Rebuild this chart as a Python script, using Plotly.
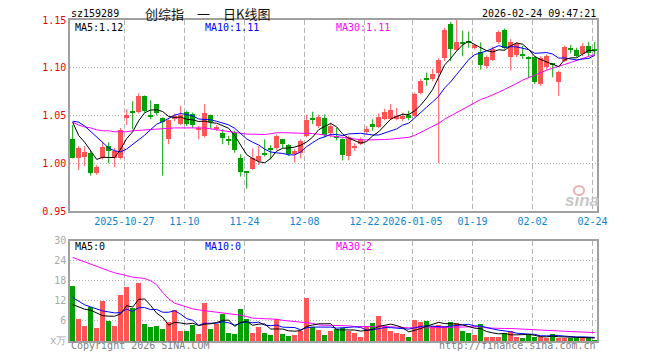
import numpy as np
import pandas as pd
import plotly.graph_objects as go

# ---------------- data ----------------
holidays = ["2026-01-01", "2026-01-02", "2026-02-16", "2026-02-17", "2026-02-18",
            "2026-02-19", "2026-02-20", "2026-02-23"]
dates = [d.strftime("%Y-%m-%d") for d in
         pd.bdate_range("2025-10-14", "2026-02-24", freq="C", holidays=holidays)]

opens = [1.025, 1.006, 1.0066, 1.0105, 0.9895, 1.006, 1.018, 1.006, 1.006, 1.047,
         1.054, 1.0535, 1.0705, 1.050, 1.062, 1.047, 1.025, 1.046, 1.041, 1.054,
         1.052, 1.035, 1.0286, 1.0506, 1.036, 1.032, 1.0245, 1.032, 1.005, 0.991,
         0.9937, 1.0024, 1.0105, 1.0164, 1.0164, 1.025, 1.019, 1.0094, 1.011, 1.0286,
         1.047, 1.0385, 1.047, 1.032, 1.029, 1.0255, 1.0077, 1.0157, 1.0206, 1.0325,
         1.041, 1.0384, 1.0465, 1.0465, 1.0465, 1.046, 1.051, 1.050, 1.0734, 1.088,
         1.0884, 1.094, 1.110, 1.146, 1.119, 1.1262, 1.127, 1.121, 1.116, 1.102,
         1.108, 1.127, 1.1394, 1.111, 1.113, 1.1135, 1.1105, 1.111, 1.083, 1.1006,
         1.104, 1.0846, 1.107, 1.120, 1.1185, 1.1143, 1.1228, 1.119]
highs = [1.040, 1.018, 1.018, 1.013, 0.998, 1.022, 1.022, 1.016, 1.037, 1.0566,
         1.065, 1.073, 1.071, 1.066, 1.062, 1.048, 1.046, 1.052, 1.060, 1.055,
         1.053, 1.039, 1.062, 1.051, 1.040, 1.036, 1.0286, 1.034, 1.0094, 0.992,
         1.0154, 1.018, 1.025, 1.019, 1.030, 1.025, 1.020, 1.0147, 1.025, 1.051,
         1.054, 1.051, 1.051, 1.0426, 1.037, 1.026, 1.029, 1.021, 1.027, 1.039,
         1.046, 1.052, 1.057, 1.062, 1.058, 1.053, 1.055, 1.074, 1.088, 1.095,
         1.0989, 1.110, 1.142, 1.148, 1.151, 1.139, 1.138, 1.125, 1.1265, 1.113,
         1.122, 1.139, 1.141, 1.130, 1.127, 1.123, 1.112, 1.112, 1.112, 1.114,
         1.104, 1.097, 1.123, 1.124, 1.121, 1.126, 1.127, 1.127]
lows = [1.005, 0.993, 0.997, 0.987, 0.988, 1.004, 1.000, 0.996, 1.004, 1.040,
        1.0356, 1.052, 1.053, 1.046, 1.050, 0.987, 1.020, 1.044, 1.040, 1.039,
        1.037, 1.025, 1.027, 1.036, 1.034, 1.020, 1.019, 1.011, 0.986, 0.9735,
        0.993, 0.998, 1.007, 1.004, 1.014, 1.016, 1.0077, 1.0007, 1.005, 1.027,
        1.041, 1.037, 1.027, 1.027, 1.024, 1.003, 1.003, 1.013, 1.019, 1.030,
        1.034, 1.037, 1.045, 1.045, 1.045, 1.044, 1.045, 1.048, 1.072, 1.081,
        1.086, 1.000, 1.107, 1.107, 1.118, 1.112, 1.121, 1.119, 1.098, 1.099,
        1.107, 1.125, 1.119, 1.097, 1.111, 1.109, 1.089, 1.083, 1.081, 1.098,
        1.090, 1.0705, 1.106, 1.115, 1.111, 1.112, 1.112, 1.114]
closes = [1.006, 1.0157, 1.012, 0.990, 0.9965, 1.017, 1.013, 1.013, 1.035, 1.051,
          1.053, 1.0705, 1.055, 1.049, 1.053, 1.043, 1.045, 1.050, 1.051, 1.041,
          1.040, 1.0365, 1.0524, 1.0427, 1.038, 1.026, 1.024, 1.014, 0.991, 0.990,
          1.0052, 1.0076, 1.0087, 1.0136, 1.0286, 1.020, 1.0094, 1.013, 1.0234, 1.0454,
          1.046, 1.048, 1.030, 1.039, 1.027, 1.0085, 1.027, 1.018, 1.025, 1.0355,
          1.038, 1.0482, 1.0535, 1.0557, 1.050, 1.049, 1.047, 1.0727, 1.086, 1.0875,
          1.0936, 1.108, 1.140, 1.1195, 1.127, 1.1255, 1.126, 1.1234, 1.103, 1.111,
          1.1195, 1.137, 1.121, 1.127, 1.125, 1.113, 1.1095, 1.085, 1.110, 1.112,
          1.103, 1.0957, 1.122, 1.119, 1.1125, 1.123, 1.115, 1.118]
volumes = [16.4, 6.75, 4.67, 10.3, 4.07, 12.1, 5.96, 4.67, 13.9, 16.3,
           9.9, 17.5, 5.26, 4.17, 4.67, 3.77, 5.86, 9.43, 3.18, 3.18,
           4.97, 2.28, 11.6, 3.77, 5.06, 8.24, 2.58, 2.28, 9.73, 6.55,
           2.4, 4.3, 2.58, 2.0, 6.75, 2.2, 1.69, 1.99, 2.95, 13.0,
           4.3, 3.48, 1.99, 3.18, 3.6, 4.0, 3.1, 2.6, 1.4, 4.7,
           5.5, 7.65, 4.2, 3.18, 2.58, 2.28, 1.39, 6.45, 5.86, 6.16,
           4.6, 4.8, 4.6, 5.86, 5.56, 3.18, 2.58, 1.99, 5.26, 1.15,
           1.15, 1.15, 2.58, 3.18, 1.15, 1.1, 1.9, 1.15, 1.15, 0.9,
           2.28, 0.9, 0.9, 0.9, 0.9, 1.39, 0.9, 0.5]

# moving-average values at the left edge (window reaches before the visible range)
ma5_lead = [1.043, 1.029, 1.022, 1.013]
ma10_lead = [1.044, 1.043, 1.039, 1.033, 1.027, 1.021, 1.016, 1.013, 1.012]
ma30_lead = [1.043, 1.040, 1.038, 1.037, 1.035, 1.034, 1.034, 1.033, 1.033, 1.033,
             1.034, 1.0345, 1.035, 1.0355, 1.036, 1.0365, 1.037, 1.037, 1.037, 1.037,
             1.037, 1.037, 1.037, 1.036, 1.035, 1.034, 1.033, 1.032, 1.031]
vma5_lead = [10.9, 10.1, 9.5, 9.2]
vma10_lead = [13.0, 11.8, 10.8, 10.2, 9.5, 9.0, 8.7, 8.4, 8.5]
vma30_lead = [25.0, 24.3, 23.6, 22.9, 22.3, 21.6, 21.0, 20.4, 19.9, 19.4,
              19.1, 18.9, 18.7, 18.0, 16.8, 14.5, 12.6, 11.3, 10.7, 10.2,
              9.6, 9.3, 9.1, 8.9, 8.7, 8.5, 8.2, 8.0, 7.7]

tick_dates = ["2025-10-27", "2025-11-10", "2025-11-24", "2025-12-08", "2025-12-22",
              "2026-01-05", "2026-01-19", "2026-02-02", "2026-02-24"]
tick_labels = ["2025-10-27", "11-10", "11-24", "12-08", "12-22",
               "2026-01-05", "01-19", "02-02", "02-24"]
price_ticks = [0.95, 1.00, 1.05, 1.10, 1.15]
price_tick_text = ["0.95", "1.00", "1.05", "1.10", "1.15"]
vol_ticks = [0, 6, 12, 18, 24, 30]
vol_tick_text = ["x万", "6", "12", "18", "24", "30"]

title_code = "sz159289"
title_name = "创综指\u3000一\u3000日K线图"
title_time = "2026-02-24 09:47:21"
legend_price = ["MA5:1.12", "MA10:1.11", "MA30:1.11"]
legend_vol = ["MA5:0", "MA10:0", "MA30:2"]

# ---------------- derived ----------------
o = np.array(opens); h = np.array(highs); l = np.array(lows); c = np.array(closes)
v = np.array(volumes)
n = len(dates)
idx = np.arange(n)


def ma(arr, w, lead):
    s = pd.Series(arr).rolling(w).mean().to_numpy()
    s[:len(lead)] = lead
    return s


ma5 = ma(c, 5, ma5_lead); ma10 = ma(c, 10, ma10_lead); ma30 = ma(c, 30, ma30_lead)
vma5 = ma(v, 5, vma5_lead); vma10 = ma(v, 10, vma10_lead); vma30 = ma(v, 30, vma30_lead)

RED = "#ff5555"
GREEN = "#00a000"
up = c >= o
cols = np.where(up, RED, GREEN)

tickpos = [dates.index(d) - 0.38 for d in tick_dates]
XR = [-0.45, 87.38]

fig = go.Figure()

# wicks
for flag, colr in ((True, RED), (False, GREEN)):
    xs, ys = [], []
    for i in idx[up == flag]:
        xs += [i, i, None]
        ys += [l[i], h[i], None]
    fig.add_trace(go.Scatter(x=xs, y=ys, mode="lines", line=dict(color=colr, width=1),
                             hoverinfo="skip", xaxis="x", yaxis="y"))

# bodies
fig.add_trace(go.Bar(x=idx, base=np.minimum(o, c), y=np.maximum(np.abs(c - o), 0.0011),
                     width=0.78, marker=dict(color=list(cols), line=dict(width=0)),
                     xaxis="x", yaxis="y"))

for arr, colr in ((ma30, "#ff00ff"), (ma10, "#0000ff"), (ma5, "#000000")):
    fig.add_trace(go.Scatter(x=idx, y=arr, mode="lines", line=dict(color=colr, width=1),
                             xaxis="x", yaxis="y"))

# volume
fig.add_trace(go.Bar(x=idx, y=v, width=0.78, marker=dict(color=list(cols), line=dict(width=0)),
                     xaxis="x2", yaxis="y2"))
for arr, colr in ((vma30, "#ff00ff"), (vma10, "#0000ff"), (vma5, "#000000")):
    fig.add_trace(go.Scatter(x=idx, y=arr, mode="lines", line=dict(color=colr, width=1),
                             xaxis="x2", yaxis="y2"))

MONO = "DejaVu Sans Mono"
FRAME = "#a0a0a0"
GRID = "#b4b4b4"

fig.update_layout(
    width=660, height=360, margin=dict(l=70, r=63, t=20, b=19),
    paper_bgcolor="white", plot_bgcolor="white", showlegend=False,
    barmode="overlay", bargap=0,
    xaxis=dict(domain=[0, 1], range=XR, anchor="y", tickvals=tickpos, ticktext=tick_labels,
               showgrid=True, gridcolor=GRID, gridwidth=1, griddash="5px,3px",
               showline=True, linecolor=FRAME, linewidth=1.5, mirror=True, ticks="",
               zeroline=False, tickfont=dict(family=MONO, size=10, color="#0a86d0")),
    yaxis=dict(domain=[0.405, 1], range=[0.95, 1.15], tickvals=price_ticks,
               ticktext=price_tick_text, showgrid=True, gridcolor=GRID, griddash="1px,2px",
               showline=True, linecolor=FRAME, linewidth=1.5, mirror=True, ticks="",
               zeroline=False, tickfont=dict(family=MONO, size=10, color="#ee0000")),
    xaxis2=dict(domain=[0, 1], range=XR, anchor="y2", tickvals=tickpos, showticklabels=False,
                showgrid=True, gridcolor=GRID, gridwidth=1, griddash="5px,3px",
                showline=True, linecolor=FRAME, linewidth=1.5, mirror=True, ticks="",
                zeroline=False),
    yaxis2=dict(domain=[0, 0.3125], range=[0, 30], tickvals=vol_ticks, ticktext=vol_tick_text,
                showgrid=True, gridcolor=GRID, griddash="1px,2px",
                showline=True, linecolor=FRAME, linewidth=1.5, mirror=True, ticks="",
                zeroline=False, tickfont=dict(family=MONO, size=10, color="#a8a8a8")),
)


def px(x):
    return (x - 70) / 527.0


def py(y):
    return (341 - y) / 321.0


def note(text, x, y, anchor="left", color="#000", size=10, family=MONO, **kw):
    fig.add_annotation(text=text, x=px(x), y=py(y), xref="paper", yref="paper",
                       xanchor=anchor, yanchor="middle", showarrow=False,
                       font=dict(family=family, size=size, color=color), **kw)


note(title_code, 69, 13)
note(title_name, 207, 13, anchor="center", size=13, family="Noto Sans CJK SC", color="#111")
note(title_time, 598, 13, anchor="right")
for txt, x0, colr in zip(legend_price, (73, 203, 334), ("#000000", "#0000ff", "#ff00ff")):
    note(txt, x0, 27, color=colr)
for txt, x0, colr in zip(legend_vol, (73, 203, 334), ("#000000", "#0000ff", "#ff00ff")):
    note(txt, x0, 246, color=colr)
note("Copyright 2026 SINA.COM", 69, 346, color="#808080")
note("http://finance.sina.com.cn", 598, 346, anchor="right", color="#808080")

# sina watermark
note("<b><i>sina</i></b>", 582, 201, anchor="center", color="#c8c8c8", size=17,
     family="Liberation Sans")
fig.add_shape(type="circle", xref="paper", yref="paper",
              x0=px(574), x1=px(584), y0=py(195), y1=py(186),
              line=dict(color="#f2b0b0", width=2), fillcolor="rgba(0,0,0,0)")

fig.write_html("out.html", config={"displayModeBar": False})
